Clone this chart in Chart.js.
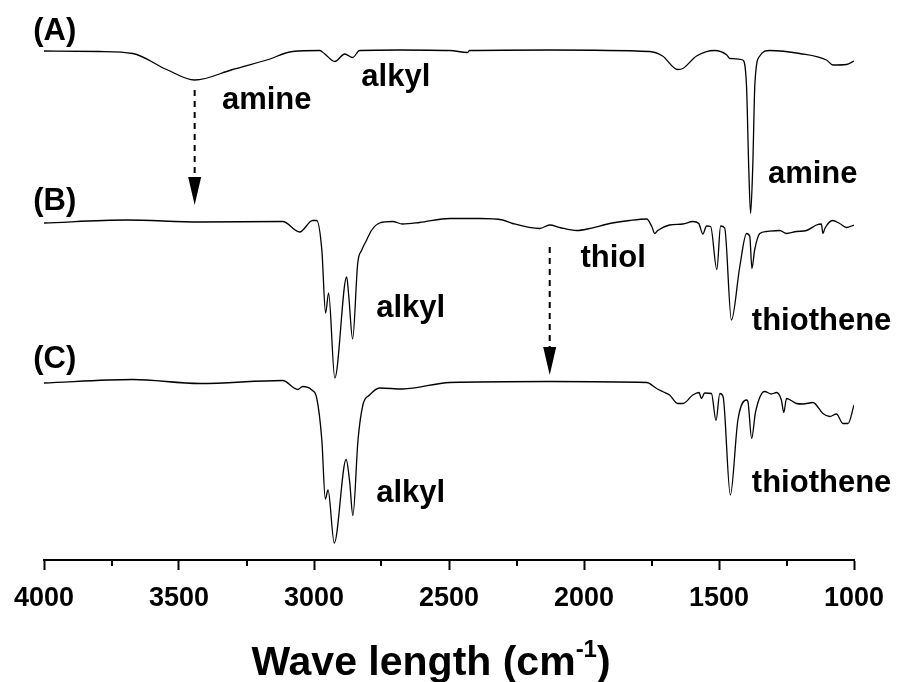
<!DOCTYPE html>
<html>
<head>
<meta charset="utf-8">
<script src="https://cdn.jsdelivr.net/npm/chart.js@4.4.1/dist/chart.umd.min.js"></script>
<style>
  html, body { margin: 0; padding: 0; background: #fff; }
  #wrap { width: 899px; height: 682px; position: relative; }
</style>
</head>
<body>
<div id="wrap"><canvas id="ftirChart"></canvas></div>
<script>
// FTIR spectra (wavenumber in cm-1, stacked transmittance a.u.)
const waveA = [4000, 3794, 3671, 3546, 3442, 3301, 3175, 3079, 2979, 2960, 2923, 2886, 2857, 2831,
  2683, 2497, 2431, 2424, 2127, 1757, 1709, 1653, 1634, 1583, 1516, 1471, 1460, 1412, 1398, 1390,
  1383, 1375, 1367, 1349, 1312, 1201, 1102, 1078, 1028, 1000];
const transA = [101.8, 101.7, 101.3, 98.1, 96.0, 98.1, 100.0, 101.7, 101.9, 101.2, 99.7, 101.2, 100.5, 101.9,
  102.0, 101.9, 101.5, 101.9, 102.0, 101.7, 100.8, 98.1, 98.3, 100.8, 101.9, 101.0, 100.3, 100.0, 94.7, 78.7,
  69.3, 78.7, 95.3, 100.8, 101.9, 101.3, 100.0, 99.0, 99.1, 99.8];

const waveB = [4000, 3694, 3423, 3116, 3053, 3005, 2990, 2971, 2957, 2946, 2923, 2879, 2871, 2857,
  2838, 2823, 2805, 2786, 2757, 2709, 2672, 2609, 2497, 2386, 2301, 2264, 2164, 2127, 2090, 2027,
  1979, 1905, 1831, 1768, 1749, 1738, 1727, 1683, 1634, 1597, 1575, 1560, 1546, 1531, 1508, 1494,
  1479, 1454, 1423, 1398, 1386, 1378, 1368, 1349, 1324, 1275, 1250, 1213, 1176, 1139, 1121, 1115,
  1108, 1079, 1053, 1028, 1000];
const transB = [67.4, 68.0, 67.6, 67.7, 65.6, 67.9, 67.9, 62.0, 49.4, 53.4, 36.4, 56.6, 52.6, 44.2,
  59.4, 62.0, 64.0, 66.0, 67.4, 67.7, 67.2, 67.5, 68.3, 68.3, 68.0, 67.3, 66.3, 67.0, 66.5, 65.9,
  66.3, 67.3, 67.9, 68.2, 66.7, 65.3, 65.9, 67.0, 67.2, 67.7, 67.3, 65.2, 66.8, 66.7, 58.1, 66.8,
  66.4, 48.0, 58.7, 65.3, 64.7, 58.3, 62.0, 65.3, 65.7, 65.9, 65.3, 65.7, 65.9, 67.0, 67.2, 65.3,
  66.3, 67.9, 67.3, 66.5, 67.0];

const waveC = [4000, 3671, 3423, 3116, 3060, 3042, 3008, 2990, 2971, 2958, 2948, 2925, 2881, 2868,
  2856, 2837, 2819, 2794, 2757, 2672, 2497, 2127, 1768, 1731, 1709, 1683, 1653, 1633, 1597, 1574,
  1565, 1553, 1528, 1511, 1497, 1485, 1458, 1430, 1398, 1393, 1379, 1365, 1331, 1306, 1287, 1269,
  1260, 1250, 1213, 1189, 1152, 1115, 1090, 1065, 1041, 1022, 1000];
const transC = [35.4, 36.1, 35.3, 35.9, 34.1, 34.7, 34.0, 32.4, 24.0, 12.2, 14.0, 3.4, 20.1, 15.7,
  8.9, 24.0, 31.0, 33.0, 34.4, 34.2, 35.5, 35.7, 35.5, 34.3, 33.7, 33.0, 31.3, 31.3, 33.0, 33.5,
  32.3, 33.4, 33.3, 27.9, 33.3, 32.7, 13.0, 28.0, 32.0, 31.7, 24.3, 29.5, 33.7, 33.2, 33.5, 32.0,
  29.5, 32.3, 31.3, 31.2, 31.5, 29.3, 28.7, 29.2, 27.3, 27.3, 31.0];

const majorTicks = [4000, 3500, 3000, 2500, 2000, 1500, 1000];
const minorTicks = [3750, 3250, 2750, 2250, 1750, 1250];

// text annotations: [text, wavenumber, y]
const notes = [
  ['(A)', 3960, 104.0],
  ['(B)', 3960, 70.0],
  ['(C)', 3960, 38.4],
  ['amine', 3175, 90.2],
  ['alkyl', 2697, 94.8],
  ['amine', 1153, 75.4],
  ['thiol', 1892, 58.6],
  ['alkyl', 2642, 48.6],
  ['thiothene', 1120, 46.0],
  ['alkyl', 2642, 11.6],
  ['thiothene', 1120, 13.6]
];
// dashed arrows: [wavenumber, y start, y tip]
const arrows = [
  [3442, 94.0, 71.0],
  [2127, 62.6, 37.0]
];

const FONT = '"Liberation Sans", Arial, sans-serif';

function toPoints(xs, ys) {
  return xs.map((x, i) => ({ x: x, y: ys[i] }));
}

const extras = {
  id: 'extras',
  afterDraw(chart) {
    const ctx = chart.ctx;
    const xs = chart.scales.x;
    const ys = chart.scales.y;
    const bottom = chart.chartArea.bottom;
    ctx.save();

    // minor ticks
    ctx.strokeStyle = '#000';
    ctx.lineWidth = 2;
    minorTicks.forEach(t => {
      const px = Math.round(xs.getPixelForValue(t));
      ctx.beginPath();
      ctx.moveTo(px, bottom);
      ctx.lineTo(px, bottom + 6);
      ctx.stroke();
    });

    // labels
    ctx.fillStyle = '#000';
    ctx.textAlign = 'center';
    ctx.textBaseline = 'alphabetic';
    ctx.font = 'bold 31px ' + FONT;
    notes.forEach(n => {
      ctx.fillText(n[0], xs.getPixelForValue(n[1]), ys.getPixelForValue(n[2]));
    });

    // arrows
    arrows.forEach(a => {
      const px = xs.getPixelForValue(a[0]);
      const y1 = ys.getPixelForValue(a[1]);
      const y2 = ys.getPixelForValue(a[2]);
      ctx.setLineDash([6, 5]);
      ctx.lineWidth = 2;
      ctx.beginPath();
      ctx.moveTo(px, y1);
      ctx.lineTo(px, y2 - 22);
      ctx.stroke();
      ctx.setLineDash([]);
      ctx.beginPath();
      ctx.moveTo(px - 6.5, y2 - 28);
      ctx.lineTo(px + 6.5, y2 - 28);
      ctx.lineTo(px, y2);
      ctx.closePath();
      ctx.fill();
    });

    // axis title with superscript
    const cx = (chart.chartArea.left + chart.chartArea.right) / 2 - 18;
    const base = 675;
    ctx.font = 'bold 41px ' + FONT;
    const t1 = 'Wave length (cm';
    const w1 = ctx.measureText(t1).width;
    ctx.font = 'bold 24px ' + FONT;
    const t2 = '-1';
    const w2 = ctx.measureText(t2).width;
    ctx.font = 'bold 41px ' + FONT;
    const t3 = ')';
    const w3 = ctx.measureText(t3).width;
    let left = cx - (w1 + w2 + w3) / 2;
    ctx.textAlign = 'left';
    ctx.fillText(t1, left, base);
    ctx.font = 'bold 24px ' + FONT;
    ctx.fillText(t2, left + w1, base - 18);
    ctx.font = 'bold 41px ' + FONT;
    ctx.fillText(t3, left + w1 + w2, base);
    ctx.restore();
  }
};

const ctx = document.getElementById('ftirChart').getContext('2d');
const lineStyle = { borderColor: '#000', borderWidth: 1.3, pointRadius: 0, fill: false, cubicInterpolationMode: 'monotone' };

new Chart(ctx, {
  type: 'line',
  data: {
    datasets: [
      Object.assign({ label: 'A', data: toPoints(waveA, transA) }, lineStyle),
      Object.assign({ label: 'B', data: toPoints(waveB, transB) }, lineStyle),
      Object.assign({ label: 'C', data: toPoints(waveC, transC) }, lineStyle)
    ]
  },
  options: {
    responsive: true,
    maintainAspectRatio: false,
    animation: false,
    layout: { padding: { left: 44, right: 45, top: 10, bottom: 0 } },
    plugins: { legend: { display: false }, tooltip: { enabled: false } },
    scales: {
      x: {
        type: 'linear',
        reverse: true,
        min: 1000,
        max: 4000,
        afterBuildTicks(scale) {
          scale.ticks = majorTicks.map(v => ({ value: v }));
        },
        afterFit(scale) {
          scale.height = 122;
        },
        border: { display: true, color: '#000', width: 2 },
        grid: { drawOnChartArea: false, drawTicks: true, tickLength: 10, tickColor: '#000', tickWidth: 2 },
        ticks: {
          color: '#000',
          padding: 12,
          maxRotation: 0,
          font: { family: FONT, size: 27, weight: 'bold' },
          callback: v => String(v)
        }
      },
      y: {
        display: false,
        min: 0,
        max: 110
      }
    }
  },
  plugins: [extras]
});
</script>
</body>
</html>
